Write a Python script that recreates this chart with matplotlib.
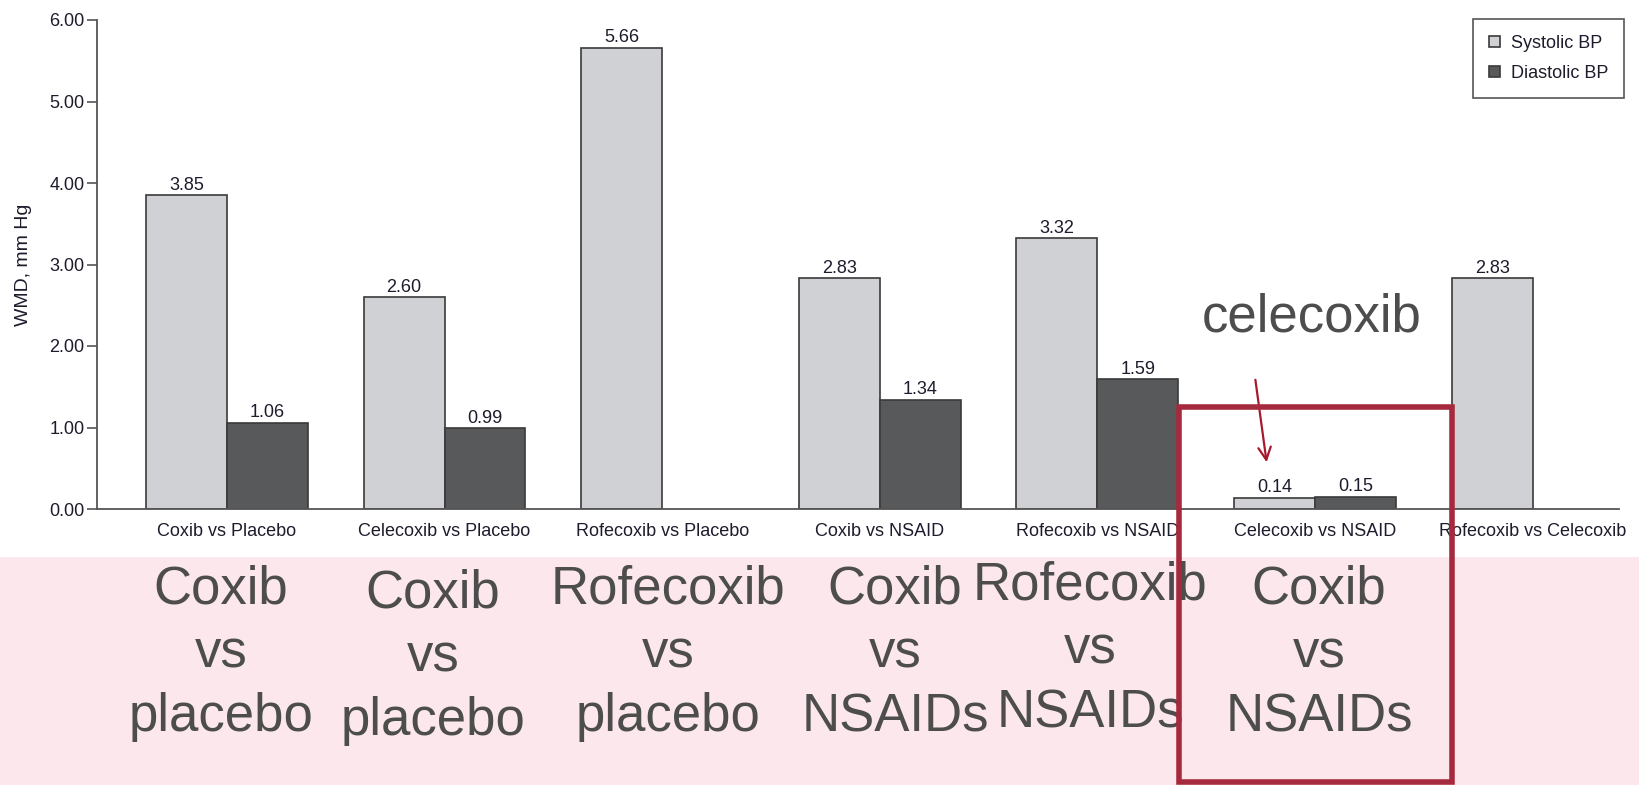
import numpy as np
import matplotlib
matplotlib.use("Agg")
import matplotlib.pyplot as plt
from matplotlib.patches import Rectangle

# ---- data -------------------------------------------------------------
comparisons = ["Coxib vs Placebo", "Celecoxib vs Placebo", "Rofecoxib vs Placebo",
               "Coxib vs NSAID", "Rofecoxib vs NSAID", "Celecoxib vs NSAID",
               "Rofecoxib vs Celecoxib"]
systolic = [3.85, 2.60, 5.66, 2.83, 3.32, 0.14, 2.83]
diastolic = [1.06, 0.99, np.nan, 1.34, 1.59, 0.15, np.nan]
series_names = ["Systolic BP", "Diastolic BP"]
y_ticks = [0, 1, 2, 3, 4, 5, 6]
group_captions = ["Coxib\nvs\nplacebo", "Coxib\nvs\nplacebo", "Rofecoxib\nvs\nplacebo",
                  "Coxib\nvs\nNSAIDs", "Rofecoxib\nvs\nNSAIDs", "Coxib\nvs\nNSAIDs"]
callout_text = "celecoxib"

# ---- styling ----------------------------------------------------------
W, H, DPI = 1640, 785, 100
SANS = ["Liberation Sans", "DejaVu Sans"]
SMALL = 13
SYS_COLOR = "#D0D1D5"
DIA_COLOR = "#58595B"
EDGE = "#3A3A3A"
TEXT_DARK = "#1C1C2C"
CAPTION = "#4D4D4D"
BOX_RED = "#A62A3D"
ARROW_RED = "#A8192C"
PINK = "#FCE8EC"

fig = plt.figure(figsize=(W / DPI, H / DPI), dpi=DPI)
fig.patch.set_facecolor("white")


def fx(px):
    return px / W


def fy(py):
    return 1 - py / H


# pink caption band behind the lower part of the figure
fig.add_artist(Rectangle((0, 0), 1, fy(557), transform=fig.transFigure,
                         facecolor=PINK, edgecolor="none", zorder=0))

ax = fig.add_axes([fx(97), fy(509), fx(1619 - 97), (509 - 20) / H])
ax.set_facecolor("white")

x = np.arange(len(comparisons))
bw = 0.372
ax.bar(x - bw / 2, systolic, bw, color=SYS_COLOR, edgecolor=EDGE,
       linewidth=1.2, label=series_names[0], zorder=2)
ax.bar(x + bw / 2, diastolic, bw, color=DIA_COLOR, edgecolor=EDGE,
       linewidth=1.2, label=series_names[1], zorder=2)

for xs, vals in ((x - bw / 2, systolic), (x + bw / 2, diastolic)):
    for xi, v in zip(xs, vals):
        if np.isnan(v):
            continue
        ax.annotate(f"{v:.2f}", (xi, v), xytext=(0, 1), textcoords="offset points",
                    ha="center", va="bottom", fontsize=SMALL, family=SANS,
                    color=TEXT_DARK)

ax.set_xlim(-0.597, 6.397)
ax.set_ylim(0, 6)
ax.set_yticks(y_ticks)
ax.set_yticklabels([f"{t:.2f}" for t in y_ticks], family=SANS, fontsize=SMALL,
                   color=TEXT_DARK)
ax.set_xticks(x)
ax.set_xticklabels(comparisons, family=SANS, fontsize=SMALL, color=TEXT_DARK)
ax.tick_params(axis="x", length=0, pad=10)
ax.tick_params(axis="y", length=7, width=1.2, color="#555555", pad=2)

for s in ("top", "right"):
    ax.spines[s].set_visible(False)
for s in ("left", "bottom"):
    ax.spines[s].set_color("#555555")
    ax.spines[s].set_linewidth(1.3)

ax.set_ylabel("WMD, mm Hg", family=SANS, fontsize=14, color=TEXT_DARK,
              va="center", ha="center")
ax.yaxis.set_label_coords((24 - 97) / (1619 - 97), 0.5)

leg = ax.legend(loc="upper right", bbox_to_anchor=(fx(1624), fy(19)),
                bbox_transform=fig.transFigure, prop={"family": SANS, "size": SMALL},
                fancybox=False, framealpha=1, edgecolor="#555555",
                handlelength=0.61, handleheight=0.61, handletextpad=0.6,
                labelspacing=0.72, borderpad=0.88, borderaxespad=0)
leg.get_frame().set_linewidth(1.2)
for t in leg.get_texts():
    t.set_color(TEXT_DARK)

# large captions in the pink band, one line at a time
cap_x = [221, 433, 668, 895, 1090, 1319]
cap_dy = [0, 4, 0, 0, -3, 0]
for cx, dy, cap in zip(cap_x, cap_dy, group_captions):
    for k, line in enumerate(cap.split("\n")):
        fig.text(fx(cx), fy(603 + dy + 64 * k), line, ha="center", va="baseline",
                 fontsize=38, family=SANS, color=CAPTION, zorder=3)

fig.text(fx(1312), fy(332), callout_text, ha="center", va="baseline",
         fontsize=38, family=SANS, color=CAPTION, zorder=3)

ax.annotate("", xy=(fx(1267), fy(465)), xytext=(fx(1255), fy(377)),
            xycoords=fig.transFigure, textcoords=fig.transFigure,
            arrowprops=dict(arrowstyle="->,head_length=0.9,head_width=0.45",
                            color=ARROW_RED, lw=1.6),
            annotation_clip=False, zorder=6)

fig.add_artist(Rectangle((fx(1179), fy(782)), fx(1452 - 1179), (782 - 407) / H,
                         transform=fig.transFigure, facecolor="none",
                         edgecolor=BOX_RED, linewidth=4, zorder=10))

fig.savefig("out.png", dpi=DPI)
